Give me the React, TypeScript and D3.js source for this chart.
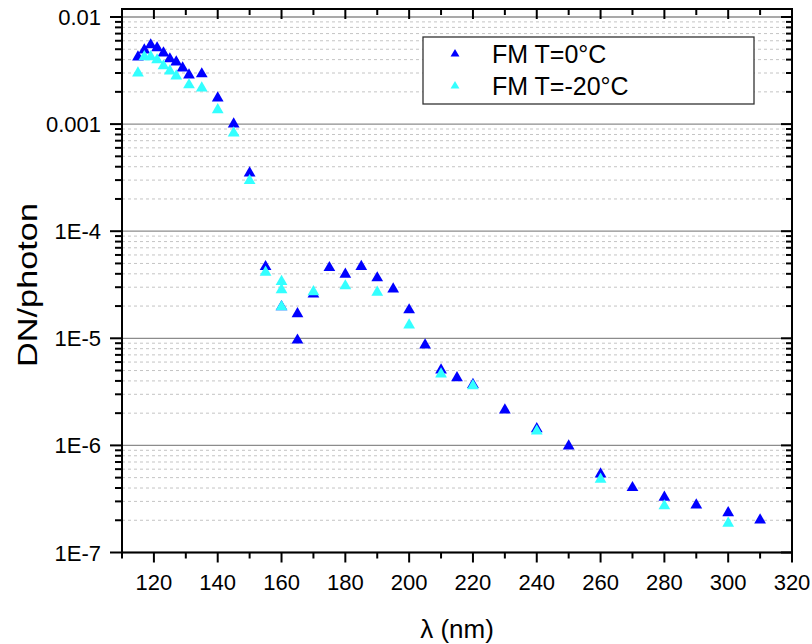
import React from "react";
import * as d3 from "d3";

// ---- data ----
const blueWavelength = [115, 117, 119, 121, 123, 125, 127, 129, 131, 135, 140, 145, 150, 155, 160, 165, 165, 170, 175, 180, 185, 190, 195, 200, 205, 210, 215, 220, 230, 240, 250, 260, 270, 280, 290, 300, 310];
const blueValue = [0.00423, 0.00492, 0.00548, 0.00514, 0.00461, 0.00406, 0.0038, 0.00334, 0.00287, 0.00294, 0.00175, 0.001, 0.000349, 4.66e-5, 1.97e-5, 1.69e-5, 9.6e-6, 2.58e-5, 4.56e-5, 3.95e-5, 4.67e-5, 3.66e-5, 2.88e-5, 1.84e-5, 8.66e-6, 5.06e-6, 4.28e-6, 3.7e-6, 2.14e-6, 1.43e-6, 9.86e-7, 5.4e-7, 4.03e-7, 3.28e-7, 2.77e-7, 2.35e-7, 2.01e-7];

const cyanWavelength = [115, 117, 119, 121, 123, 125, 127, 131, 135, 140, 145, 150, 155, 160, 160, 160, 170, 180, 190, 200, 210, 220, 240, 260, 280, 300];
const cyanValue = [0.003, 0.00425, 0.00425, 0.00397, 0.00349, 0.00313, 0.00281, 0.00232, 0.00217, 0.00136, 0.000826, 0.000296, 4.13e-5, 3.38e-5, 2.83e-5, 1.97e-5, 2.72e-5, 3.08e-5, 2.69e-5, 1.33e-5, 4.64e-6, 3.6e-6, 1.36e-6, 4.82e-7, 2.72e-7, 1.87e-7];

const seriesNames = ["FM T=0°C", "FM T=-20°C"];
const seriesColors = ["#0000ff", "#33ffff"];

const xMajorTicks = [120, 140, 160, 180, 200, 220, 240, 260, 280, 300, 320];
const xMinorTicks = [110, 130, 150, 170, 190, 210, 230, 250, 270, 290, 310];
const yMajorTicks = [1e-7, 1e-6, 1e-5, 1e-4, 1e-3, 1e-2];
const yTickLabels = ["1E-7", "1E-6", "1E-5", "1E-4", "0.001", "0.01"];
const minorMultipliers = [2, 3, 4, 5, 6, 7, 8, 9];

const FONT = "Arial, 'Liberation Sans', Helvetica, sans-serif";

export default function App() {
  const W = 812;
  const H = 644;
  const left = 122, right = 792, top = 9, bottom = 552.5;

  const x = d3.scaleLinear().domain([110, 320]).range([left, right]);
  // 0.01 sits 8px below the top frame
  const y = d3.scaleLog().domain([1e-7, 1e-2]).range([bottom, 17]);
  const yTop = y.invert(top);

  const yMinor: number[] = [];
  yMajorTicks.forEach((d) => {
    minorMultipliers.forEach((m) => {
      const v = d * m;
      if (v < yTop) yMinor.push(v);
    });
  });

  const tri = d3.symbol().type(d3.symbolTriangle).size(60)();
  const triLegend = d3.symbol().type(d3.symbolTriangle).size(34)();

  const blue = blueWavelength.map((w, i) => ({ w, v: blueValue[i] }));
  const cyan = cyanWavelength.map((w, i) => ({ w, v: cyanValue[i] }));

  const legend = { x0: 423, y0: 37, x1: 754, y1: 104 };

  return (
    <svg width={W} height={H} style={{ position: "absolute", left: 0, top: 0, background: "#fff" }} fontFamily={FONT}>
      <rect x={0} y={0} width={W} height={H} fill="#fff" />
      {/* minor grid */}
      {yMinor.map((v, i) => (
        <line key={"mg" + i} x1={left} x2={right} y1={y(v)} y2={y(v)} stroke="#c4c4c4" strokeWidth={1} strokeDasharray="3,3" />
      ))}
      {/* major grid */}
      {yMajorTicks.map((v, i) => (
        <line key={"Mg" + i} x1={left} x2={right} y1={y(v)} y2={y(v)} stroke="#8c8c8c" strokeWidth={1.3} />
      ))}

      {/* legend box */}
      <rect x={legend.x0} y={legend.y0} width={legend.x1 - legend.x0} height={legend.y1 - legend.y0} fill="#fff" stroke="#333" strokeWidth={1.3} />
      {seriesNames.map((name, i) => (
        <g key={"lg" + i}>
          <path d={triLegend} transform={`translate(455,${54 + i * 32})`} fill={seriesColors[i]} />
          <text x={492} y={63 + i * 32} fontSize={25} fill="#000">{name}</text>
        </g>
      ))}

      {/* data */}
      {blue.map((d, i) => (
        <path key={"b" + i} d={tri} transform={`translate(${x(d.w)},${y(d.v)})`} fill={seriesColors[0]} />
      ))}
      {cyan.map((d, i) => (
        <path key={"c" + i} d={tri} transform={`translate(${x(d.w)},${y(d.v)})`} fill={seriesColors[1]} />
      ))}

      {/* frame */}
      <rect x={left} y={top} width={right - left} height={bottom - top} fill="none" stroke="#000" strokeWidth={2} />

      {/* bottom ticks (outward) and top ticks (inward) */}
      {xMajorTicks.map((v, i) => (
        <g key={"xM" + i}>
          <line x1={x(v)} x2={x(v)} y1={bottom} y2={bottom + 10} stroke="#000" strokeWidth={2} />
          <line x1={x(v)} x2={x(v)} y1={top} y2={top + 10} stroke="#000" strokeWidth={2} />
          <text x={x(v)} y={590} fontSize={22} textAnchor="middle" fill="#000">{v}</text>
        </g>
      ))}
      {xMinorTicks.map((v, i) => (
        <g key={"xm" + i}>
          <line x1={x(v)} x2={x(v)} y1={bottom} y2={bottom + 6} stroke="#000" strokeWidth={2} />
          <line x1={x(v)} x2={x(v)} y1={top} y2={top + 6} stroke="#000" strokeWidth={2} />
        </g>
      ))}

      {/* left ticks (outward) and right ticks (inward) */}
      {yMajorTicks.map((v, i) => (
        <g key={"yM" + i}>
          <line x1={left - 12} x2={left} y1={y(v)} y2={y(v)} stroke="#000" strokeWidth={2} />
          <line x1={right - 11} x2={right} y1={y(v)} y2={y(v)} stroke="#000" strokeWidth={2} />
          <text x={101} y={y(v) + 8} fontSize={22} textAnchor="end" fill="#000">{yTickLabels[i]}</text>
        </g>
      ))}
      {yMinor.map((v, i) => (
        <g key={"ym" + i}>
          <line x1={left - 7} x2={left} y1={y(v)} y2={y(v)} stroke="#000" strokeWidth={2} />
          <line x1={right - 6} x2={right} y1={y(v)} y2={y(v)} stroke="#000" strokeWidth={2} />
        </g>
      ))}

      {/* axis titles */}
      <text x={457} y={638} fontSize={26} textAnchor="middle" fill="#000">λ (nm)</text>
      <text transform="translate(37,285) rotate(-90)" fontSize={28} textAnchor="middle" textLength={164} lengthAdjust="spacingAndGlyphs" fill="#000">DN/photon</text>
    </svg>
  );
}
